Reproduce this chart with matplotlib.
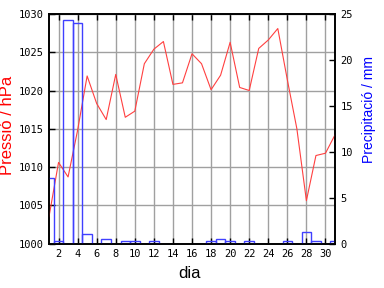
import matplotlib
matplotlib.use('Agg')
import matplotlib.pyplot as plt
import numpy as np

# daily data for the month
dies = np.arange(1, 32)
pressio = [1003.5, 1010.6, 1008.7, 1014.8, 1021.9, 1018.3, 1016.2, 1022.1, 1016.5, 1017.3,
           1023.5, 1025.4, 1026.4, 1020.8, 1021.0, 1024.8, 1023.5, 1020.1, 1022.0, 1026.3,
           1020.4, 1020.0, 1025.5, 1026.6, 1028.1, 1021.4, 1015.0, 1005.6, 1011.5, 1011.8,
           1014.2]
precip = [7.1, 0.3, 24.4, 24.0, 1.0, 0.0, 0.5, 0.0, 0.3, 0.3,
          0.0, 0.3, 0.0, 0.0, 0.0, 0.0, 0.0, 0.3, 0.5, 0.3,
          0.0, 0.3, 0.0, 0.0, 0.0, 0.3, 0.0, 1.3, 0.3, 0.0,
          0.3]
xticks = np.arange(2, 31, 2)

plt.rcParams['font.family'] = ['Liberation Sans', 'DejaVu Sans']

fig = plt.figure(figsize=(3.84, 2.88), dpi=100)
ax = fig.add_axes([49/384, 1-243.5/288, 286/384, 229.5/288])
ax2 = ax.twinx()

# pressure line
ax.plot(dies, pressio, color='#ff4040', lw=0.8, zorder=3)
ax.set_xlim(1, 31)
ax.set_ylim(1000, 1030)
ax.set_xticks(xticks)
ax.set_yticks(np.arange(1000, 1031, 5))
ax.grid(True, color='#a0a0a0', lw=1)
ax.set_axisbelow(True)
ax.tick_params(direction='in', length=4, width=1, top=True, labelsize=7.5, pad=4)
for lab in ax.get_xticklabels() + ax.get_yticklabels():
    lab.set_family('DejaVu Sans Mono')

# precipitation bars (outline only)
bars = [ax2.bar(d, p, width=1.0, fill=False, edgecolor='#4040ff', lw=1) for d, p in zip(dies, precip) if p > 0]
ax2.set_ylim(0, 25)
ax2.set_yticks(np.arange(0, 26, 5))
ax2.tick_params(direction='in', length=4, width=1, labelsize=7.5, pad=4)
for lab in ax2.get_yticklabels():
    lab.set_family('DejaVu Sans Mono')

for a in (ax, ax2):
    for s in a.spines.values():
        s.set_linewidth(1.2)

ax.set_xlabel('dia', fontsize=12)
ax.xaxis.set_label_coords(0.49, -0.10)
ax.set_ylabel('Pressió / hPa', color='red', fontsize=12)
ax.yaxis.set_label_coords(-0.119, 0.516)
ax2.set_ylabel('Precipitació / mm', color='blue', fontsize=10)
ax2.yaxis.set_label_coords(1.094, 0.586)

fig.savefig('out.png', dpi=100)
